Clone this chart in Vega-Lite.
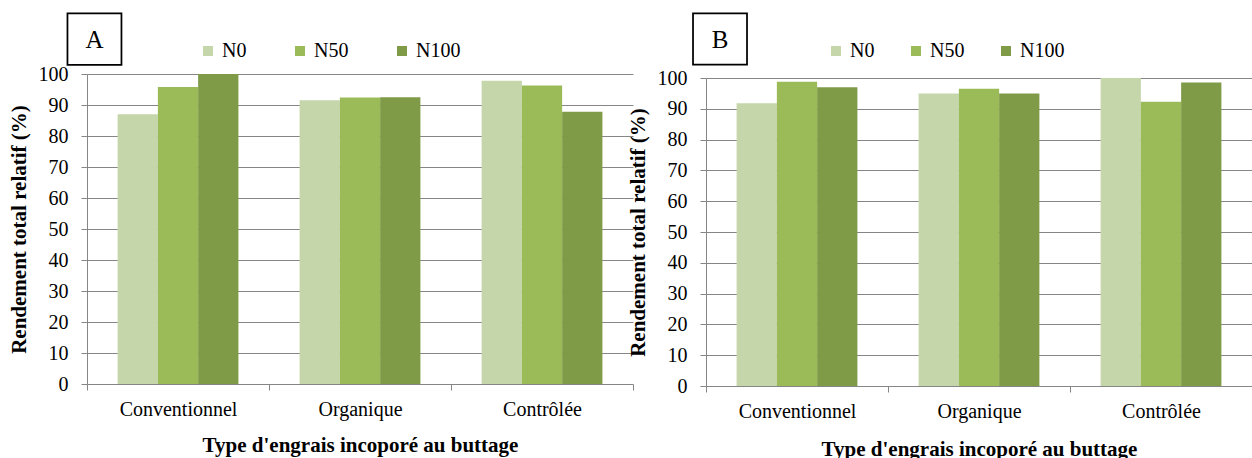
{
  "$schema": "https://vega.github.io/schema/vega-lite/v6.json",
  "autosize": {"type": "pad"},
  "padding": {"left": 8, "top": 9, "right": 0, "bottom": 0},
  "background": "white",
  "datasets": {
    "rend": [
      {"panel": "A", "type": "Conventionnel", "dose": "N0", "value": 87.0},
      {"panel": "A", "type": "Conventionnel", "dose": "N50", "value": 95.8},
      {"panel": "A", "type": "Conventionnel", "dose": "N100", "value": 100.0},
      {"panel": "A", "type": "Organique", "dose": "N0", "value": 91.5},
      {"panel": "A", "type": "Organique", "dose": "N50", "value": 92.4},
      {"panel": "A", "type": "Organique", "dose": "N100", "value": 92.5},
      {"panel": "A", "type": "Contrôlée", "dose": "N0", "value": 97.8},
      {"panel": "A", "type": "Contrôlée", "dose": "N50", "value": 96.3},
      {"panel": "A", "type": "Contrôlée", "dose": "N100", "value": 87.8},
      {"panel": "B", "type": "Conventionnel", "dose": "N0", "value": 91.8},
      {"panel": "B", "type": "Conventionnel", "dose": "N50", "value": 98.8},
      {"panel": "B", "type": "Conventionnel", "dose": "N100", "value": 97.0},
      {"panel": "B", "type": "Organique", "dose": "N0", "value": 95.0},
      {"panel": "B", "type": "Organique", "dose": "N50", "value": 96.5},
      {"panel": "B", "type": "Organique", "dose": "N100", "value": 95.0},
      {"panel": "B", "type": "Contrôlée", "dose": "N0", "value": 100.0},
      {"panel": "B", "type": "Contrôlée", "dose": "N50", "value": 92.3},
      {"panel": "B", "type": "Contrôlée", "dose": "N100", "value": 98.5}
    ],
    "labels": [
      {"panel": "A", "type": "Conventionnel"},
      {"panel": "B", "type": "Conventionnel"}
    ]
  },
  "hconcat": [
    {
      "width": 532,
      "height": 310,
      "layer": [
        {
          "data": {"name": "rend"},
          "transform": [{"filter": "datum.panel === 'A'"}],
          "mark": {"type": "bar"},
          "encoding": {
            "x": {"field": "type", "type": "nominal", "title": "Type d'engrais incoporé au buttage",
                  "scale": {"domain": ["Conventionnel", "Organique", "Contrôlée"], "range": [0, 546], "paddingInner": 0, "paddingOuter": 0},
                  "axis": {"titlePadding": 15}},
            "xOffset": {"field": "dose", "type": "nominal", "scale": {"domain": ["N0", "N50", "N100"], "paddingInner": 0, "paddingOuter": 0.76}},
            "y": {"field": "value", "type": "quantitative", "title": "Rendement total relatif (%)", "scale": {"domain": [0, 100]}},
            "color": {"field": "dose", "type": "nominal", "scale": {"domain": ["N0", "N50", "N100"], "range": ["#c5d6aa", "#9bbb59", "#7f9b48"]},
                      "legend": {"orient": "none", "legendX": 111, "legendY": -33, "direction": "horizontal", "columnPadding": 43}}
          }
        },
        {
          "data": {"name": "labels"},
          "transform": [{"filter": "datum.panel === 'A'"}],
          "mark": {"type": "point", "shape": "M-1,-0.95H1V0.95H-1Z", "size": 2916, "filled": false, "stroke": "black", "strokeWidth": 1.75, "opacity": 1},
          "encoding": {
            "x": {"field": "type", "type": "nominal", "bandPosition": 0.041, "title": "Type d'engrais incoporé au buttage"},
            "y": {"datum": 111.25, "type": "quantitative", "title": "Rendement total relatif (%)"}
          }
        },
        {
          "data": {"name": "labels"},
          "transform": [{"filter": "datum.panel === 'A'"}],
          "mark": {"type": "text", "font": "Liberation Serif", "fontSize": 25, "color": "black", "baseline": "middle"},
          "encoding": {
            "x": {"field": "type", "type": "nominal", "bandPosition": 0.041, "title": "Type d'engrais incoporé au buttage"},
            "y": {"datum": 111.0, "type": "quantitative", "title": "Rendement total relatif (%)"},
            "text": {"field": "panel"}
          }
        }
      ]
    },
    {
      "width": 546,
      "height": 312,
      "layer": [
        {
          "data": {"name": "rend"},
          "transform": [{"filter": "datum.panel === 'B'"}],
          "mark": {"type": "bar"},
          "encoding": {
            "x": {"field": "type", "type": "nominal", "title": "Type d'engrais incoporé au buttage",
                  "scale": {"domain": ["Conventionnel", "Organique", "Contrôlée"], "paddingInner": 0, "paddingOuter": 0},
                  "axis": {"titlePadding": 17}},
            "xOffset": {"field": "dose", "type": "nominal", "scale": {"domain": ["N0", "N50", "N100"], "paddingInner": 0, "paddingOuter": 0.76}},
            "y": {"field": "value", "type": "quantitative", "title": "Rendement total relatif (%)", "scale": {"domain": [0, 100], "range": [312, 4]}},
            "color": {"field": "dose", "type": "nominal", "scale": {"domain": ["N0", "N50", "N100"], "range": ["#c5d6aa", "#9bbb59", "#7f9b48"]},
                      "legend": {"orient": "none", "legendX": 120, "legendY": -33, "direction": "horizontal", "columnPadding": 31}}
          }
        },
        {
          "data": {"name": "labels"},
          "transform": [{"filter": "datum.panel === 'B'"}],
          "mark": {"type": "point", "shape": "M-1,-0.95H1V0.95H-1Z", "size": 2916, "filled": false, "stroke": "black", "strokeWidth": 1.75, "opacity": 1},
          "encoding": {
            "x": {"field": "type", "type": "nominal", "bandPosition": 0.077, "title": "Type d'engrais incoporé au buttage"},
            "y": {"datum": 112.65, "type": "quantitative", "title": "Rendement total relatif (%)"}
          }
        },
        {
          "data": {"name": "labels"},
          "transform": [{"filter": "datum.panel === 'B'"}],
          "mark": {"type": "text", "font": "Liberation Serif", "fontSize": 25, "color": "black", "baseline": "middle"},
          "encoding": {
            "x": {"field": "type", "type": "nominal", "bandPosition": 0.077, "title": "Type d'engrais incoporé au buttage"},
            "y": {"datum": 112.5, "type": "quantitative", "title": "Rendement total relatif (%)"},
            "text": {"field": "panel"}
          }
        }
      ]
    }
  ],
  "spacing": -7,
  "resolve": {
    "scale": {"x": "independent", "y": "independent", "xOffset": "independent", "color": "shared"},
    "legend": {"color": "independent"}
  },
  "config": {
    "font": "Liberation Serif",
    "view": {"stroke": null},
    "axis": {
      "labelFont": "Liberation Serif",
      "labelFontSize": 20,
      "labelColor": "black",
      "titleFont": "Liberation Serif",
      "titleFontSize": 21,
      "titleFontWeight": "bold",
      "titleColor": "black",
      "domainColor": "#868686",
      "tickColor": "#868686",
      "gridColor": "#868686",
      "tickSize": 6
    },
    "axisY": {
      "values": [0, 10, 20, 30, 40, 50, 60, 70, 80, 90, 100],
      "grid": true,
      "labelPadding": 13,
      "titlePadding": 9,
      "labelFont": "Liberation Serif",
      "titleFont": "Liberation Serif"
    },
    "axisX": {
      "grid": false,
      "domain": false,
      "labelAngle": 0,
      "tickBand": "extent",
      "labelPadding": 9,
      "labelFont": "Liberation Serif",
      "titleFont": "Liberation Serif"
    },
    "legend": {
      "title": null,
      "symbolType": "square",
      "symbolSize": 100,
      "symbolStrokeWidth": 0,
      "labelFont": "Liberation Serif",
      "labelFontSize": 20,
      "labelColor": "black",
      "labelOffset": 4,
      "padding": 0
    }
  }
}
